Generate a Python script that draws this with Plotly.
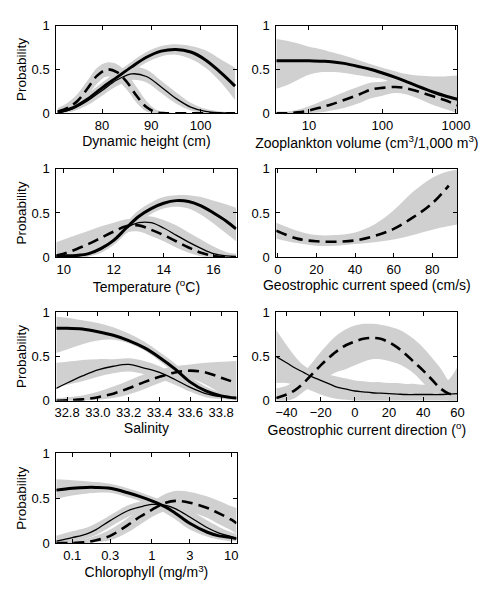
import plotly.graph_objects as go

BAND = "rgb(208,208,208)"
FONT = "Liberation Sans, Arial, Helvetica, sans-serif"

# ---------------- Panel 1: Dynamic height (cm) ----------------
dh_x = [71, 74, 77, 80, 83, 86, 89, 92, 95, 98, 101, 104, 107]
dh_thick = [0.01, 0.06, 0.16, 0.29, 0.41, 0.53, 0.64, 0.71, 0.73, 0.70, 0.61, 0.47, 0.31]
dh_thick_lo = [0.0, 0.03, 0.11, 0.23, 0.35, 0.47, 0.58, 0.65, 0.67, 0.62, 0.52, 0.36, 0.15]
dh_thick_hi = [0.04, 0.10, 0.22, 0.35, 0.47, 0.59, 0.70, 0.77, 0.79, 0.77, 0.72, 0.62, 0.52]
dh_thin = [0.005, 0.05, 0.14, 0.26, 0.38, 0.45, 0.42, 0.30, 0.17, 0.07, 0.02, 0.005, 0.0]
dh_thin_lo = [0.0, 0.02, 0.09, 0.20, 0.31, 0.38, 0.35, 0.23, 0.11, 0.03, 0.0, 0.0, 0.0]
dh_thin_hi = [0.02, 0.10, 0.20, 0.33, 0.45, 0.53, 0.50, 0.37, 0.24, 0.12, 0.05, 0.02, 0.01]
dh_dash_x = [71, 73, 75, 77, 79, 81, 83, 85, 87, 89, 91, 93, 97, 102, 107]
dh_dash = [0.02, 0.06, 0.14, 0.28, 0.43, 0.50, 0.47, 0.36, 0.20, 0.07, 0.01, 0.0, 0.0, 0.0, 0.0]
dh_dash_lo = [0.0, 0.02, 0.07, 0.19, 0.34, 0.42, 0.38, 0.27, 0.12, 0.02, 0.0, 0.0, 0.0, 0.0, 0.0]
dh_dash_hi = [0.06, 0.12, 0.22, 0.37, 0.52, 0.58, 0.56, 0.46, 0.30, 0.14, 0.04, 0.01, 0.0, 0.0, 0.0]

# ---------------- Panel 2: Zooplankton volume ----------------
zp_x = [3.6, 5, 7, 10, 15, 20, 30, 50, 70, 100, 150, 200, 300, 500, 700, 1050]
zp_thick = [0.60, 0.60, 0.60, 0.60, 0.595, 0.59, 0.57, 0.53, 0.50, 0.46, 0.41, 0.37, 0.31, 0.24, 0.20, 0.16]
zp_thick_lo = [0.28, 0.32, 0.38, 0.44, 0.47, 0.47, 0.46, 0.43, 0.41, 0.39, 0.33, 0.28, 0.19, 0.11, 0.06, 0.02]
zp_thick_hi = [0.85, 0.83, 0.80, 0.76, 0.73, 0.70, 0.66, 0.60, 0.56, 0.52, 0.48, 0.45, 0.43, 0.42, 0.42, 0.43]
zp_dash = [0.0, 0.0, 0.01, 0.03, 0.07, 0.10, 0.15, 0.22, 0.27, 0.29, 0.30, 0.29, 0.25, 0.19, 0.15, 0.09]
zp_dash_lo = [0.0, 0.0, 0.0, 0.0, 0.01, 0.03, 0.06, 0.12, 0.17, 0.20, 0.23, 0.22, 0.17, 0.09, 0.05, 0.0]
zp_dash_hi = [0.02, 0.02, 0.04, 0.08, 0.14, 0.18, 0.24, 0.31, 0.35, 0.36, 0.37, 0.36, 0.32, 0.27, 0.24, 0.20]

# ---------------- Panel 3: Temperature ----------------
tp_x = [9.7, 10.0, 10.5, 11.0, 11.5, 12.0, 12.5, 13.0, 13.5, 14.0, 14.5, 15.0, 15.5, 16.0, 16.5, 16.9]
tp_thick = [0.01, 0.015, 0.02, 0.04, 0.10, 0.19, 0.33, 0.46, 0.55, 0.61, 0.64, 0.63, 0.58, 0.50, 0.41, 0.32]
tp_thick_lo = [0.0, 0.0, 0.0, 0.01, 0.06, 0.14, 0.27, 0.40, 0.49, 0.55, 0.57, 0.55, 0.48, 0.38, 0.27, 0.18]
tp_thick_hi = [0.03, 0.04, 0.05, 0.08, 0.15, 0.25, 0.39, 0.53, 0.62, 0.68, 0.70, 0.70, 0.68, 0.64, 0.60, 0.56]
tp_thin = [0.0, 0.005, 0.01, 0.04, 0.09, 0.20, 0.33, 0.39, 0.39, 0.33, 0.25, 0.17, 0.10, 0.04, 0.015, 0.01]
tp_thin_lo = [0.0, 0.0, 0.0, 0.01, 0.05, 0.14, 0.27, 0.32, 0.31, 0.25, 0.16, 0.09, 0.04, 0.01, 0.0, 0.0]
tp_thin_hi = [0.01, 0.02, 0.03, 0.08, 0.14, 0.26, 0.40, 0.46, 0.46, 0.42, 0.36, 0.28, 0.20, 0.12, 0.06, 0.04]
tp_dash = [0.02, 0.04, 0.09, 0.15, 0.22, 0.29, 0.35, 0.36, 0.31, 0.25, 0.18, 0.11, 0.05, 0.015, 0.0, 0.0]
tp_dash_lo = [0.0, 0.0, 0.02, 0.06, 0.12, 0.20, 0.28, 0.29, 0.24, 0.18, 0.11, 0.05, 0.01, 0.0, 0.0, 0.0]
tp_dash_hi = [0.17, 0.20, 0.25, 0.30, 0.35, 0.39, 0.43, 0.43, 0.38, 0.32, 0.25, 0.18, 0.10, 0.05, 0.02, 0.01]

# ---------------- Panel 4: Geostrophic current speed ----------------
sp_x = [-0.8, 10, 20, 30, 40, 50, 60, 70, 80, 88.5]
sp_dash = [0.30, 0.21, 0.18, 0.175, 0.19, 0.24, 0.32, 0.45, 0.61, 0.81]
sp_band_x = [-0.8, 10, 20, 30, 40, 50, 60, 70, 80, 88, 93]
sp_band_lo = [0.21, 0.16, 0.13, 0.13, 0.15, 0.17, 0.20, 0.25, 0.31, 0.35, 0.37]
sp_band_hi = [0.39, 0.30, 0.25, 0.25, 0.28, 0.37, 0.53, 0.74, 0.90, 0.97, 0.99]

# ---------------- Panel 5: Salinity ----------------
sa_x = [32.73, 32.8, 32.9, 33.0, 33.1, 33.2, 33.3, 33.4, 33.5, 33.6, 33.7, 33.8, 33.9]
sa_thick = [0.82, 0.82, 0.81, 0.78, 0.74, 0.68, 0.60, 0.49, 0.36, 0.21, 0.11, 0.055, 0.03]
sa_thick_lo = [0.54, 0.58, 0.64, 0.68, 0.69, 0.65, 0.57, 0.45, 0.31, 0.16, 0.07, 0.03, 0.01]
sa_thick_hi = [0.95, 0.94, 0.91, 0.88, 0.83, 0.76, 0.67, 0.55, 0.42, 0.27, 0.16, 0.09, 0.06]
sa_thin = [0.14, 0.20, 0.28, 0.35, 0.39, 0.41, 0.37, 0.32, 0.24, 0.15, 0.08, 0.045, 0.03]
sa_thin_lo = [0.15, 0.18, 0.22, 0.27, 0.31, 0.33, 0.30, 0.25, 0.18, 0.10, 0.04, 0.02, 0.01]
sa_thin_hi = [0.43, 0.44, 0.46, 0.47, 0.47, 0.48, 0.45, 0.39, 0.30, 0.20, 0.12, 0.08, 0.05]
sa_dash = [0.0, 0.005, 0.015, 0.04, 0.08, 0.14, 0.21, 0.27, 0.32, 0.34, 0.32, 0.26, 0.20]
sa_dash_lo = [0.0, 0.0, 0.0, 0.01, 0.03, 0.07, 0.13, 0.20, 0.25, 0.25, 0.18, 0.08, 0.0]
sa_dash_hi = [0.03, 0.04, 0.06, 0.10, 0.16, 0.23, 0.30, 0.35, 0.39, 0.41, 0.43, 0.44, 0.45]

# ---------------- Panel 6: Geostrophic current direction ----------------
gd_x = [-46, -40, -35, -30, -25, -20, -15, -10, -5, 0, 5, 10, 15, 20, 25, 30, 35, 40, 45, 50, 55, 60]
gd_thin = [0.50, 0.43, 0.37, 0.32, 0.27, 0.23, 0.19, 0.15, 0.13, 0.11, 0.10, 0.09, 0.085, 0.08, 0.075, 0.07, 0.07, 0.07, 0.07, 0.07, 0.075, 0.08]
gd_thin_lo = [0.20, 0.20, 0.18, 0.15, 0.11, 0.07, 0.04, 0.02, 0.01, 0.0, 0.0, 0.0, 0.0, 0.0, 0.0, 0.0, 0.0, 0.0, 0.0, 0.0, 0.0, 0.0]
gd_thin_hi = [0.80, 0.63, 0.50, 0.40, 0.34, 0.30, 0.29, 0.27, 0.25, 0.23, 0.22, 0.21, 0.21, 0.20, 0.20, 0.19, 0.19, 0.18, 0.18, 0.19, 0.24, 0.38]
gd_dash = [0.03, 0.07, 0.12, 0.20, 0.30, 0.40, 0.49, 0.57, 0.63, 0.67, 0.70, 0.71, 0.70, 0.66, 0.60, 0.52, 0.43, 0.34, 0.24, 0.14, 0.08, 0.07]
gd_dash_lo = [0.0, 0.0, 0.03, 0.10, 0.17, 0.23, 0.28, 0.33, 0.36, 0.40, 0.44, 0.47, 0.47, 0.45, 0.42, 0.37, 0.30, 0.20, 0.10, 0.03, 0.0, 0.0]
gd_dash_hi = [0.14, 0.17, 0.23, 0.32, 0.43, 0.55, 0.66, 0.75, 0.81, 0.85, 0.87, 0.87, 0.86, 0.84, 0.81, 0.76, 0.69, 0.60, 0.49, 0.37, 0.22, 0.12]

# ---------------- Panel 7: Chlorophyll ----------------
ch_x = [0.063, 0.1, 0.15, 0.2, 0.3, 0.5, 0.7, 1.0, 1.5, 2.0, 3.0, 5.0, 7.0, 10.0, 11.6]
ch_thick = [0.59, 0.61, 0.62, 0.62, 0.61, 0.56, 0.52, 0.47, 0.40, 0.33, 0.22, 0.12, 0.08, 0.06, 0.05]
ch_thick_lo = [0.49, 0.53, 0.55, 0.56, 0.56, 0.51, 0.47, 0.41, 0.33, 0.26, 0.15, 0.07, 0.04, 0.02, 0.02]
ch_thick_hi = [0.71, 0.70, 0.69, 0.68, 0.66, 0.61, 0.57, 0.52, 0.46, 0.40, 0.29, 0.18, 0.13, 0.10, 0.09]
ch_thin = [0.02, 0.06, 0.10, 0.15, 0.25, 0.36, 0.40, 0.43, 0.42, 0.38, 0.29, 0.17, 0.11, 0.07, 0.05]
ch_thin_lo = [0.0, 0.02, 0.05, 0.09, 0.18, 0.29, 0.34, 0.37, 0.35, 0.31, 0.21, 0.10, 0.06, 0.03, 0.02]
ch_thin_hi = [0.08, 0.13, 0.17, 0.22, 0.31, 0.42, 0.46, 0.49, 0.49, 0.45, 0.37, 0.25, 0.18, 0.12, 0.10]
ch_dash = [0.0, 0.0, 0.01, 0.03, 0.08, 0.20, 0.29, 0.37, 0.45, 0.47, 0.45, 0.39, 0.33, 0.26, 0.22]
ch_dash_lo = [0.0, 0.0, 0.0, 0.01, 0.03, 0.12, 0.20, 0.29, 0.36, 0.38, 0.35, 0.28, 0.21, 0.14, 0.10]
ch_dash_hi = [0.02, 0.03, 0.05, 0.08, 0.15, 0.28, 0.37, 0.46, 0.55, 0.58, 0.57, 0.52, 0.47, 0.41, 0.39]

# tick definitions
prob_ticks = [0, 0.5, 1]
prob_labels = ["0", "0.5", "1"]
dh_ticks = [80, 90, 100]
zp_ticks = [10, 100, 1000]
zp_labels = ["10", "100", "1000"]
tp_ticks = [10, 12, 14, 16]
sp_ticks = [0, 20, 40, 60, 80]
sa_ticks = [32.8, 33.0, 33.2, 33.4, 33.6, 33.8]
sa_labels = ["32.8", "33.0", "33.2", "33.4", "33.6", "33.8"]
gd_ticks = [-40, -20, 0, 20, 40, 60]
ch_ticks = [0.1, 0.3, 1, 3, 10]
ch_labels = ["0.1", "0.3", "1", "3", "10"]

fig = go.Figure()

THICK = dict(color="black", width=3.0)
THIN = dict(color="black", width=1.3)
DASH = dict(color="black", width=2.6, dash="11px,6px")


def band(n, x, lo, hi):
    xa, ya = ("x" if n == 1 else f"x{n}"), ("y" if n == 1 else f"y{n}")
    fig.add_trace(go.Scatter(x=x, y=lo, mode="lines", line=dict(width=0, shape="spline", color=BAND),
                             xaxis=xa, yaxis=ya, showlegend=False, hoverinfo="skip"))
    fig.add_trace(go.Scatter(x=x, y=hi, mode="lines", line=dict(width=0, shape="spline", color=BAND),
                             fill="tonexty", fillcolor=BAND,
                             xaxis=xa, yaxis=ya, showlegend=False, hoverinfo="skip"))


def line(n, x, y, style):
    xa, ya = ("x" if n == 1 else f"x{n}"), ("y" if n == 1 else f"y{n}")
    fig.add_trace(go.Scatter(x=x, y=y, mode="lines", line=dict(shape="spline", **style),
                             xaxis=xa, yaxis=ya, showlegend=False))


# Panel 1
band(1, dh_x, dh_thick_lo, dh_thick_hi)
band(1, dh_x, dh_thin_lo, dh_thin_hi)
band(1, dh_dash_x, dh_dash_lo, dh_dash_hi)
line(1, dh_x, dh_thick, THICK)
line(1, dh_x, dh_thin, THIN)
line(1, dh_dash_x, dh_dash, DASH)
# Panel 2
band(2, zp_x, zp_thick_lo, zp_thick_hi)
band(2, zp_x, zp_dash_lo, zp_dash_hi)
line(2, zp_x, zp_thick, THICK)
line(2, zp_x, zp_dash, DASH)
# Panel 3
band(3, tp_x, tp_thick_lo, tp_thick_hi)
band(3, tp_x, tp_thin_lo, tp_thin_hi)
band(3, tp_x, tp_dash_lo, tp_dash_hi)
line(3, tp_x, tp_thick, THICK)
line(3, tp_x, tp_thin, THIN)
line(3, tp_x, tp_dash, DASH)
# Panel 4
band(4, sp_band_x, sp_band_lo, sp_band_hi)
line(4, sp_x, sp_dash, DASH)
# Panel 5
band(5, sa_x, sa_thick_lo, sa_thick_hi)
band(5, sa_x, sa_thin_lo, sa_thin_hi)
band(5, sa_x, sa_dash_lo, sa_dash_hi)
line(5, sa_x, sa_thick, THICK)
line(5, sa_x, sa_thin, THIN)
line(5, sa_x, sa_dash, DASH)
# Panel 6
band(6, gd_x, gd_thin_lo, gd_thin_hi)
band(6, gd_x, gd_dash_lo, gd_dash_hi)
line(6, gd_x, gd_thin, THIN)
line(6, gd_x, gd_dash, DASH)
# Panel 7
band(7, ch_x, ch_thick_lo, ch_thick_hi)
band(7, ch_x, ch_thin_lo, ch_thin_hi)
band(7, ch_x, ch_dash_lo, ch_dash_hi)
line(7, ch_x, ch_thick, THICK)
line(7, ch_x, ch_thin, THIN)
line(7, ch_x, ch_dash, DASH)

cols = [[0.1155, 0.499], [0.5835, 0.969]]
rows = [[0.8153, 0.9673], [0.5649, 0.7186], [0.3153, 0.4690], [0.0678, 0.2237]]

panels = [
    dict(col=0, row=0, type="linear", range=[70.7, 107.3], tv=dh_ticks, tt=None, title="Dynamic height (cm)"),
    dict(col=1, row=0, type="log", range=[0.555, 3.02], tv=zp_ticks, tt=zp_labels,
         title="Zooplankton volume (cm<sup>3</sup>/1,000 m<sup>3</sup>)"),
    dict(col=0, row=1, type="linear", range=[9.7, 16.92], tv=tp_ticks, tt=None, title="Temperature (<sup>o</sup>C)"),
    dict(col=1, row=1, type="linear", range=[-0.8, 93], tv=sp_ticks, tt=None, title="Geostrophic current speed (cm/s)"),
    dict(col=0, row=2, type="linear", range=[32.73, 33.9], tv=sa_ticks, tt=sa_labels, title="Salinity"),
    dict(col=1, row=2, type="linear", range=[-46, 60], tv=gd_ticks, tt=None, title="Geostrophic current direction (<sup>o</sup>)"),
    dict(col=0, row=3, type="log", range=[-1.2, 1.065], tv=ch_ticks, tt=ch_labels, title="Chlorophyll (mg/m<sup>3</sup>)"),
]

axis_common = dict(showline=True, linecolor="black", linewidth=1, mirror="allticks", ticks="inside",
                   ticklen=4, tickwidth=1, tickcolor="black", showgrid=False, zeroline=False,
                   tickfont=dict(size=13, color="black", family=FONT))

layout = dict(width=485, height=590, margin=dict(l=0, r=0, t=0, b=0),
              paper_bgcolor="white", plot_bgcolor="white",
              font=dict(family=FONT, size=13, color="black"), showlegend=False)

for i, p in enumerate(panels, start=1):
    xk = "xaxis" if i == 1 else f"xaxis{i}"
    yk = "yaxis" if i == 1 else f"yaxis{i}"
    xa = dict(axis_common, domain=cols[p["col"]], type=p["type"], range=p["range"],
              tickvals=p["tv"], anchor=("y" if i == 1 else f"y{i}"),
              ticklabelstandoff=0,
              title=dict(text=p["title"], font=dict(size=14, family=FONT, color="black"), standoff=0))
    if p["tt"] is not None:
        xa["ticktext"] = p["tt"]
    ya = dict(axis_common, domain=rows[p["row"]], range=[0, 1], tickvals=prob_ticks, ticktext=prob_labels,
              anchor=("x" if i == 1 else f"x{i}"), ticklabelstandoff=3)
    if p["col"] == 0:
        ya["title"] = dict(text="Probability", font=dict(size=13.5, family=FONT, color="black"), standoff=1)
    layout[xk] = xa
    layout[yk] = ya

fig.update_layout(**layout)
fig.write_html("out.html")
